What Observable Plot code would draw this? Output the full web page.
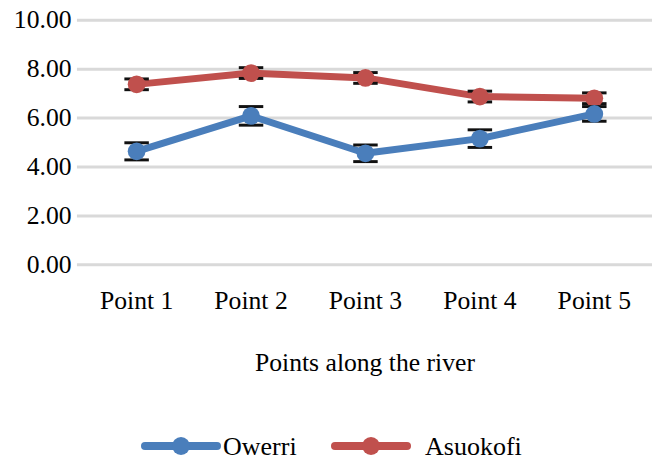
<!DOCTYPE html>
<html><head><meta charset="utf-8">
<script src="https://cdn.jsdelivr.net/npm/d3@7"></script>
<script src="https://cdn.jsdelivr.net/npm/@observablehq/plot@0.6"></script>
<style>
body{margin:0;background:#fff;font-family:"Liberation Serif",serif;}
#chart{width:652px;height:420px;overflow:hidden;}
#chart svg{display:block;}
#legend{display:block;}
</style></head><body>
<div id="chart"></div>
<svg id="legend" width="652" height="41"></svg>
<script>
const points = ["Point 1", "Point 2", "Point 3", "Point 4", "Point 5"];
const owerri = [4.64, 6.09, 4.56, 5.16, 6.17];
const owerriErr = [0.35, 0.38, 0.34, 0.36, 0.3];
const asuokofi = [7.38, 7.84, 7.64, 6.88, 6.81];
const asuokofiErr = [0.22, 0.22, 0.22, 0.22, 0.22];
const yTicks = [0, 2, 4, 6, 8, 10];
const seriesNames = ["Owerri", "Asuokofi"];
const seriesColors = ["#4A7EBB", "#C0504D"];
const xTitle = "Points along the river";

const rows = points.flatMap((p, i) => [
  {point: p, series: seriesNames[0], value: owerri[i], err: owerriErr[i]},
  {point: p, series: seriesNames[1], value: asuokofi[i], err: asuokofiErr[i]}
]);
const ow = rows.filter(d => d.series === seriesNames[0]);
const as = rows.filter(d => d.series === seriesNames[1]);

const capSymbol = {draw(ctx, size){ const w = Math.sqrt(size); ctx.moveTo(-w, 0); ctx.lineTo(w, 0); }};
const errMarks = (data) => [
  Plot.link(data, {x1: "point", x2: "point", y1: d => d.value - d.err, y2: d => d.value + d.err, stroke: "#111", strokeWidth: 2}),
  Plot.dot(data, {x: "point", y: d => d.value + d.err, symbol: capSymbol, r: 7, stroke: "#111", strokeWidth: 3, fill: "none"}),
  Plot.dot(data, {x: "point", y: d => d.value - d.err, symbol: capSymbol, r: 7, stroke: "#111", strokeWidth: 3, fill: "none"})
];

const chart = Plot.plot({
  width: 661, height: 420,
  marginTop: 20, marginBottom: 152, marginLeft: 78, marginRight: 0,
  style: {fontFamily: "Liberation Serif, serif", fontSize: "26px", color: "#000", background: "#fff", overflow: "visible"},
  x: {type: "point", domain: points, padding: 0.5},
  y: {domain: [0, 10]},
  color: {domain: seriesNames, range: seriesColors},
  marks: [
    Plot.ruleY(yTicks, {stroke: "#d9d9d9", strokeWidth: 3}),
    Plot.axisY({ticks: yTicks, tickFormat: d3.format(".2f"), tickSize: 0, tickPadding: 6, label: null, fontSize: 26}),
    Plot.axisX({tickSize: 0, tickPadding: 26, label: null, fontSize: 26}),
    Plot.text([xTitle], {frameAnchor: "bottom", dy: 99, lineAnchor: "middle", fontSize: 26, fill: "#000"}),
    Plot.line(as, {x: "point", y: "value", stroke: "series", strokeWidth: 7}),
    ...errMarks(as),
    Plot.dot(as, {x: "point", y: "value", fill: "series", r: 9}),
    Plot.line(ow, {x: "point", y: "value", stroke: "series", strokeWidth: 7}),
    ...errMarks(ow),
    Plot.dot(ow, {x: "point", y: "value", fill: "series", r: 9})
  ]
});
document.getElementById("chart").append(chart);

const legendItems = [
  {name: seriesNames[0], color: seriesColors[0], x0: 145, x1: 217, tx: 223},
  {name: seriesNames[1], color: seriesColors[1], x0: 335, x1: 407, tx: 425}
];
const legend = d3.select("#legend");
legendItems.forEach(it => {
  legend.append("line").attr("x1", it.x0).attr("x2", it.x1).attr("y1", 26).attr("y2", 26)
    .attr("stroke", it.color).attr("stroke-width", 8).attr("stroke-linecap", "round");
  legend.append("circle").attr("cx", (it.x0 + it.x1) / 2).attr("cy", 26).attr("r", 9).attr("fill", it.color);
  legend.append("text").attr("x", it.tx).attr("y", 35).attr("font-size", 26)
    .attr("font-family", "Liberation Serif, serif").attr("fill", "#000").text(it.name);
});
</script>
</body></html>
